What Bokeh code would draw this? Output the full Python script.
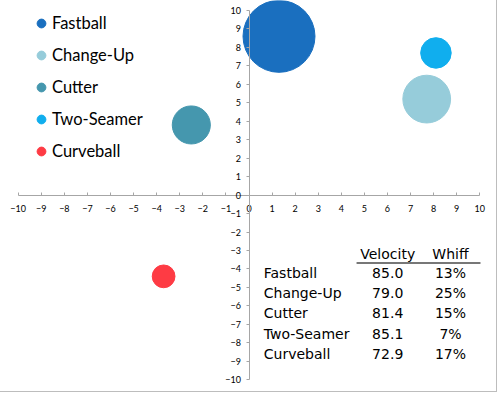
from bokeh.plotting import figure
from bokeh.models import LinearAxis, FixedTicker, Range1d
from bokeh.core.properties import value
from bokeh.embed import file_html
from bokeh.resources import INLINE
import math

# ---- data ----
pitches = ["Fastball", "Change-Up", "Cutter", "Two-Seamer", "Curveball"]
x_move = [1.3, 7.7, -2.5, 8.1, -3.7]
y_move = [8.6, 5.2, 3.8, 7.7, -4.4]
bubble_size = [50, 22, 14, 9, 5]
colors = ["#1a6fbf", "#96ccda", "#4597ae", "#10aeee", "#fe3b44"]

velocity = ["85.0", "79.0", "81.4", "85.1", "72.9"]
whiff = ["13%", "25%", "15%", "7%", "17%"]
table_headers = ["Velocity", "Whiff"]
ticks = list(range(-10, 11))

W, H = 497, 392
p = figure(width=W, height=H, output_backend="svg", toolbar_location=None,
           x_range=Range1d(-10.767, 10.767), y_range=Range1d(-10.69, 10.54),
           x_axis_type=None, y_axis_type=None, min_border=0,
           background_fill_color="white", border_fill_color="white",
           styles={"border-right": "1px solid #bdbdbd", "border-bottom": "1px solid #bdbdbd"})
p.grid.visible = False
p.outline_line_color = None

AX = "#a6a6a6"
xaxis = LinearAxis(fixed_location=0, ticker=FixedTicker(ticks=ticks), bounds=(-10, 10),
                   axis_line_color=AX, major_tick_line_color=AX, minor_tick_line_color=None,
                   major_tick_in=3, major_tick_out=0, major_label_standoff=10,
                   major_label_text_font="Lato", major_label_text_font_size="9px",
                   major_label_text_color="black")
yaxis = LinearAxis(fixed_location=0, ticker=FixedTicker(ticks=ticks), bounds=(-10, 10),
                   axis_line_color=AX, major_tick_line_color=AX, minor_tick_line_color=None,
                   major_tick_in=0, major_tick_out=3, major_label_standoff=5,
                   major_label_text_font="Lato", major_label_text_font_size="9px",
                   major_label_text_color="black")
p.add_layout(xaxis, "below")
p.add_layout(yaxis, "left")

k = 10.18  # px diameter per sqrt(size)
for name, xv, yv, s, c in zip(pitches, x_move, y_move, bubble_size, colors):
    p.scatter(x=[xv], y=[yv], size=k * math.sqrt(s), fill_color=c, line_color=c,
              legend_label=name)

lg = p.legend[0]
lg.location = (30, 230)
lg.padding = 0
lg.margin = 0
lg.spacing = 10
lg.glyph_width = 22
lg.glyph_height = 22
lg.label_height = 22
lg.label_standoff = -3
lg.label_text_font = "Lato"
lg.label_text_font_size = "16.5px"
lg.label_text_color = "black"
lg.border_line_color = None
lg.background_fill_alpha = 0

# ---- table ----
name_x, vel_x, whiff_x = 0.64, 6.01, 8.73
head_y, row0_y, dy = -3.18, -4.22, 1.094
row_y = [row0_y - i * dy for i in range(len(pitches))]
font = value("DejaVu Sans")
p.text(x=[vel_x, whiff_x], y=[head_y, head_y], text=table_headers, text_font=font,
       text_font_size="14px", text_align="center", text_baseline="middle", text_color="black")
p.segment(x0=[vel_x - 1.35], y0=[head_y - 0.5], x1=[whiff_x + 1.3], y1=[head_y - 0.5],
          line_color="#4a4a4a", line_width=1.5)
p.text(x=[name_x] * len(pitches), y=row_y, text=pitches, text_font=font,
       text_font_size="14px", text_align="left", text_baseline="middle", text_color="black")
p.text(x=[vel_x] * len(pitches), y=row_y, text=velocity, text_font=font,
       text_font_size="14px", text_align="center", text_baseline="middle", text_color="black")
p.text(x=[whiff_x] * len(pitches), y=row_y, text=whiff, text_font=font,
       text_font_size="14px", text_align="center", text_baseline="middle", text_color="black")

open("out.html", "w").write(file_html(p, INLINE))
